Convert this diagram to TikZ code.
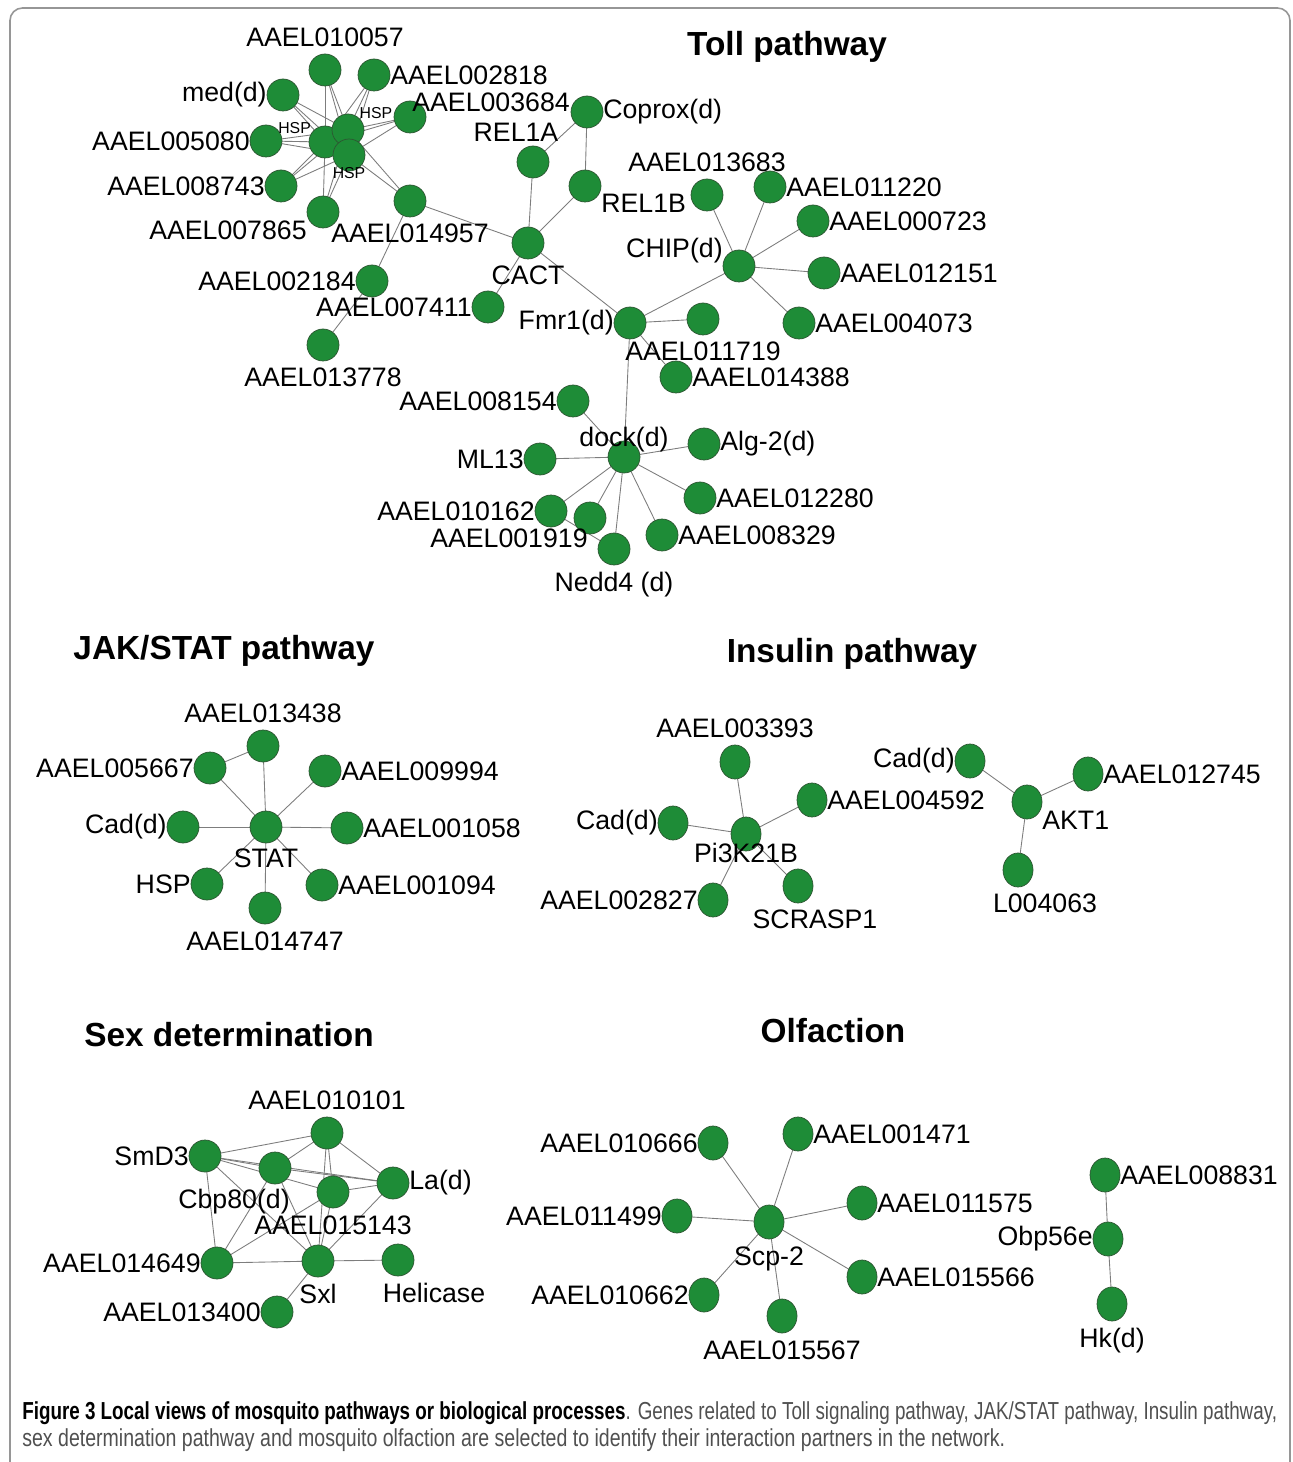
\documentclass[tikz,border=0pt]{standalone}
\usepackage{fontspec}
\setmainfont{Liberation Sans}
\usetikzlibrary{shapes.geometric, backgrounds}
\definecolor{geneGreen}{RGB}{30, 140, 55}
\definecolor{geneRim}{RGB}{45, 85, 50}
\definecolor{edgeGray}{RGB}{125, 125, 125}
\definecolor{frameGray}{RGB}{150, 150, 150}
\definecolor{captionGray}{RGB}{80, 80, 80}
\newcommand{\genefont}{\fontsize{15.2}{17}\selectfont}
\newcommand{\hspfont}{\fontsize{9}{10}\selectfont}
\newcommand{\titlefont}{\fontsize{19}{22}\selectfont\bfseries}
\newcommand{\capfont}{\fontsize{14}{16}\selectfont}

\begin{document}
\begin{tikzpicture}[
    x=0.02cm, y=-0.02cm,
    % Node styles
    gene/.style={
        circle,
        minimum size=0.64cm,
        inner sep=0pt,
        outer sep=0pt,
        fill=geneGreen,
        draw=geneRim,
        line width=0.4pt
    },
    geneoval/.style={
        gene,
        ellipse,
        minimum width=0.6cm,
        minimum height=0.68cm
    },
    % Label styles
    lbl/.style={font=\genefont, inner sep=0pt, text=black},
    lblv/.style={lbl, label distance=0.14cm},
    hsplbl/.style={font=\hspfont, inner sep=0pt, text=black},
    title/.style={font=\titlefont, inner sep=0pt},
    % Connector style
    edge/.style={draw=edgeGray, line width=0.5pt},
    % Frame style
    frame/.style={draw=frameGray, line width=0.9pt, rounded corners=0.25cm}
]
\useasboundingbox (0,0) rectangle (1292,1462);

% ============================================
% FRAME
% ============================================
\draw[frame] (10,1462) -- (10,8) -- (1290,8) -- (1290,1462);

% ============================================
% TOLL PATHWAY
% ============================================
\node[title] (tollTitle) at (787,47) {Toll pathway};

% HSP neighbourhood
\node[gene, label={[lblv]above:AAEL010057}] (aael010057) at (325,70) {};
\node[gene, label={[lbl]right:AAEL002818}] (aael002818) at (374,75) {};
\node[gene, label={[lbl]left:med(d)}] (med) at (283,95) {};
\node[gene, label={[lbl, xshift=-0.28cm, yshift=0.3cm]right:AAEL003684}] (aael003684) at (410,117) {};
\node[gene, label={[lbl]left:AAEL005080}] (aael005080) at (266,141) {};
\node[gene, label={[lbl]left:AAEL008743}] (aael008743) at (281,186) {};
\node[gene, label={[lbl, yshift=-0.36cm]left:AAEL007865}] (aael007865) at (323,212) {};
\node[gene, label={[lblv]below:AAEL014957}] (aael014957) at (410,201) {};
\node[gene, label={[lbl]left:AAEL002184}] (aael002184) at (372,281) {};
\node[gene, label={[lbl]left:AAEL007411}] (aael007411) at (488,307) {};
\node[gene, label={[lblv]below:AAEL013778}] (aael013778) at (323,345) {};

% HSP hub
\node[gene, label={[hsplbl]150:HSP}] (hsp1) at (325,142) {};
\node[gene, label={[hsplbl]45:HSP}] (hsp2) at (348,130) {};
\node[gene, label={[hsplbl, label distance=-0.07cm]below:HSP}] (hsp3) at (349,155) {};

% CACT / REL
\node[gene, label={[lbl, xshift=-0.34cm, label distance=0.08cm]above:REL1A}] (rel1a) at (533,162) {};
\node[gene, label={[lbl]right:Coprox(d)}] (coprox) at (587,112) {};
\node[gene, label={[lbl, yshift=-0.34cm]right:REL1B}] (rel1b) at (585,186) {};
\node[gene, label={[lblv]below:CACT}] (cact) at (528,243) {};

% Fmr1 / CHIP
\node[gene, label={[lbl]left:Fmr1(d)}] (fmr1) at (630,323) {};
\node[gene, label={[lblv]below:AAEL011719}] (aael011719) at (703,319) {};
\node[gene, label={[lbl]right:AAEL014388}] (aael014388) at (676,377) {};
\node[gene, label={[lblv]above:AAEL013683}] (aael013683) at (707,195) {};
\node[gene, label={[lbl]right:AAEL011220}] (aael011220) at (770,187) {};
\node[gene, label={[lbl]right:AAEL000723}] (aael000723) at (813,221) {};
\node[gene, label={[lbl, yshift=0.3cm]left:CHIP(d)}] (chip) at (739,266) {};
\node[gene, label={[lbl]right:AAEL012151}] (aael012151) at (824,273) {};
\node[gene, label={[lbl]right:AAEL004073}] (aael004073) at (799,323) {};

% dock
\node[gene, label={[lbl]left:AAEL008154}] (aael008154) at (573,401) {};
\node[gene, label={[lbl, label distance=-0.22cm]above:dock(d)}] (dock) at (624,457) {};
\node[gene, label={[lbl]left:ML13}] (ml13) at (540,459) {};
\node[gene, label={[lbl]right:Alg-2(d)}] (alg2) at (704,444) {};
\node[gene, label={[lbl]right:AAEL012280}] (aael012280) at (700,498) {};
\node[gene, label={[lbl]left:AAEL010162}] (aael010162) at (551,511) {};
\node[gene, label={[lbl, xshift=0.28cm, yshift=-0.4cm]left:AAEL001919}] (aael001919) at (590,518) {};
\node[gene, label={[lbl]right:AAEL008329}] (aael008329) at (662,535) {};
\node[gene, label={[lblv]below:Nedd4 (d)}] (nedd4) at (614,549) {};

% ============================================
% JAK/STAT PATHWAY
% ============================================
\node[title] (jakTitle) at (224,651) {JAK/STAT pathway};

\node[gene, label={[lbl, label distance=0.1cm]below:STAT}] (stat) at (266,827) {};
\node[gene, label={[lblv]above:AAEL013438}] (aael013438) at (263,746) {};
\node[gene, label={[lbl]left:AAEL005667}] (aael005667) at (210,768) {};
\node[gene, label={[lbl]right:AAEL009994}] (aael009994) at (325,771) {};
\node[gene, label={[lbl]left:Cad(d)}] (jakCad) at (183,827) {};
\node[gene, label={[lbl]right:AAEL001058}] (aael001058) at (347,828) {};
\node[gene, label={[lbl]left:HSP}] (jakHsp) at (207,884) {};
\node[gene, label={[lbl]right:AAEL001094}] (aael001094) at (322,885) {};
\node[gene, label={[lblv]below:AAEL014747}] (aael014747) at (265,908) {};

% ============================================
% INSULIN PATHWAY
% ============================================
\node[title] (insTitle) at (852,654) {Insulin pathway};

\node[geneoval, label={[lbl, label distance=-0.16cm]below:Pi3K21B}] (pi3k) at (746,834) {};
\node[geneoval, label={[lblv]above:AAEL003393}] (aael003393) at (735,762) {};
\node[geneoval, label={[lbl]left:Cad(d)}] (insCad) at (673,823) {};
\node[geneoval, label={[lbl]right:AAEL004592}] (aael004592) at (812,800) {};
\node[geneoval, label={[lbl]left:AAEL002827}] (aael002827) at (713,900) {};
\node[geneoval, label={[lbl, xshift=0.34cm, label distance=0.12cm]below:SCRASP1}] (scrasp1) at (798,886) {};

\node[geneoval, label={[lbl, yshift=-0.36cm]right:AKT1}] (akt1) at (1027,802) {};
\node[geneoval, label={[lbl]left:Cad(d)}] (aktCad) at (970,761) {};
\node[geneoval, label={[lbl]right:AAEL012745}] (aael012745) at (1088,774) {};
\node[geneoval, label={[lbl, xshift=0.54cm, label distance=0.12cm]below:L004063}] (l004063) at (1018,870) {};

% ============================================
% SEX DETERMINATION
% ============================================
\node[title] (sexTitle) at (229,1035) {Sex determination};

\node[gene, label={[lbl]left:SmD3}] (smd3) at (205,1156) {};
\node[gene, label={[lblv]above:AAEL010101}] (aael010101) at (327,1133) {};
\node[gene, label={[lbl, xshift=-0.82cm, label distance=0.1cm]below:Cbp80(d)}] (cbp80) at (275,1168) {};
\node[gene, label={[lblv]below:AAEL015143}] (aael015143) at (333,1192) {};
\node[gene, label={[lbl]right:La(d)}] (la) at (393,1183) {};
\node[gene, label={[lbl]left:AAEL014649}] (aael014649) at (217,1263) {};
\node[gene, label={[lblv]below:Sxl}] (sxl) at (318,1261) {};
\node[gene, label={[lblv, xshift=0.72cm]below:Helicase}] (helicase) at (398,1260) {};
\node[gene, label={[lbl]left:AAEL013400}] (aael013400) at (277,1312) {};

% ============================================
% OLFACTION
% ============================================
\node[title] (olfTitle) at (833,1031) {Olfaction};

\node[geneoval, label={[lblv]below:Scp-2}] (scp2) at (769,1222) {};
\node[geneoval, label={[lbl]left:AAEL010666}] (aael010666) at (713,1143) {};
\node[geneoval, label={[lbl]right:AAEL001471}] (aael001471) at (798,1134) {};
\node[geneoval, label={[lbl]left:AAEL011499}] (aael011499) at (677,1216) {};
\node[geneoval, label={[lbl]right:AAEL011575}] (aael011575) at (862,1203) {};
\node[geneoval, label={[lbl]right:AAEL015566}] (aael015566) at (862,1277) {};
\node[geneoval, label={[lbl]left:AAEL010662}] (aael010662) at (704,1295) {};
\node[geneoval, label={[lblv]below:AAEL015567}] (aael015567) at (782,1316) {};

\node[geneoval, label={[lbl]right:AAEL008831}] (aael008831) at (1105,1175) {};
\node[geneoval, label={[lbl]left:Obp56e}] (obp56e) at (1108,1239) {};
\node[geneoval, label={[lblv]below:Hk(d)}] (hk) at (1112,1304) {};

% ============================================
% CONNECTORS
% ============================================
\begin{scope}[on background layer]
    % Toll: HSP hub
    \foreach \g in {aael010057, aael002818, med, aael003684, aael005080, aael008743, aael007865}
        \foreach \h in {hsp1, hsp2, hsp3}
            \draw[edge] (\g) -- (\h);
    \draw[edge] (hsp1) -- (hsp2) (hsp1) -- (hsp3) (hsp2) -- (hsp3);
    \draw[edge] (aael014957) -- (hsp2) (aael014957) -- (hsp3);
    \draw[edge] (aael014957) -- (cact);
    \draw[edge] (aael014957) -- (aael002184) -- (aael013778);
    % Toll: CACT, Fmr1, CHIP, dock
    \foreach \g in {rel1a, rel1b, aael007411, fmr1}
        \draw[edge] (cact) -- (\g);
    \draw[edge] (rel1a) -- (coprox) -- (rel1b);
    \foreach \g in {chip, aael011719, aael014388, dock}
        \draw[edge] (fmr1) -- (\g);
    \foreach \g in {aael013683, aael011220, aael000723, aael012151, aael004073}
        \draw[edge] (chip) -- (\g);
    \foreach \g in {aael008154, ml13, alg2, aael012280, aael008329, nedd4, aael001919, aael010162}
        \draw[edge] (dock) -- (\g);
    \draw[edge] (aael010162) -- (nedd4);

    % JAK/STAT
    \foreach \g in {aael013438, aael005667, aael009994, jakCad, aael001058, jakHsp, aael001094, aael014747}
        \draw[edge] (stat) -- (\g);
    \draw[edge] (aael005667) -- (aael013438);

    % Insulin
    \foreach \g in {aael003393, insCad, aael004592, aael002827, scrasp1}
        \draw[edge] (pi3k) -- (\g);
    \foreach \g in {aktCad, aael012745, l004063}
        \draw[edge] (akt1) -- (\g);

    % Sex determination
    \foreach \g in {aael010101, cbp80, aael015143, la, aael014649, sxl}
        \draw[edge] (smd3) -- (\g);
    \foreach \g in {aael010101, la, aael014649, sxl}
        \draw[edge] (cbp80) -- (\g);
    \foreach \g in {aael015143, la, sxl}
        \draw[edge] (aael010101) -- (\g);
    \foreach \g in {la, aael014649, sxl}
        \draw[edge] (aael015143) -- (\g);
    \foreach \g in {la, aael014649, helicase, aael013400}
        \draw[edge] (sxl) -- (\g);

    % Olfaction
    \foreach \g in {aael010666, aael001471, aael011499, aael011575, aael015566, aael010662, aael015567}
        \draw[edge] (scp2) -- (\g);
    \draw[edge] (aael008831) -- (obp56e) -- (hk);
\end{scope}

% ============================================
% CAPTION
% ============================================
\node[anchor=west, inner sep=0pt, font=\capfont, text=captionGray] (caption1) at (22,1413)
    {\resizebox{25.1cm}{\height}{\textcolor{black}{\textbf{Figure 3 Local views of mosquito pathways or biological processes}}. Genes related to Toll signaling pathway, JAK/STAT pathway, Insulin pathway,}};
\node[anchor=west, inner sep=0pt, font=\capfont, text=captionGray] (caption2) at (22,1440)
    {\resizebox{19.66cm}{\height}{sex determination pathway and mosquito olfaction are selected to identify their interaction partners in the network.}};

\end{tikzpicture}
\end{document}
